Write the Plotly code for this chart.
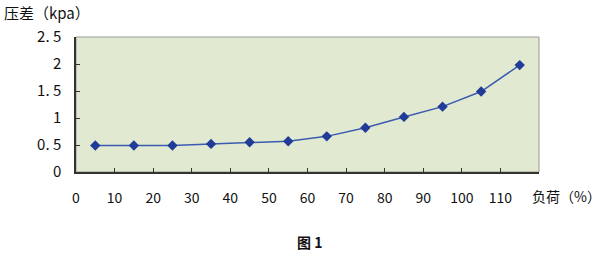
import plotly.graph_objects as go

load = [5, 15, 25, 35, 45, 55, 65, 75, 85, 95, 105, 115]
pressure = [0.49, 0.49, 0.49, 0.52, 0.55, 0.57, 0.66, 0.82, 1.02, 1.21, 1.49, 1.98]
x_ticks = [0, 10, 20, 30, 40, 50, 60, 70, 80, 90, 100, 110]
y_ticks = [0, 0.5, 1, 1.5, 2, 2.5]
y_ticktext = ["0", "0. 5", "1", "1. 5", "2", "2. 5"]

font = "Noto Sans CJK SC, DejaVu Sans, sans-serif"

fig = go.Figure()
fig.add_trace(go.Scatter(
    x=load, y=pressure, mode="lines+markers",
    line=dict(color="#3b5bb0", width=1.5),
    marker=dict(symbol="diamond", size=8, color="#203c98"),
    showlegend=False,
))

fig.update_layout(
    width=600, height=256,
    margin=dict(l=76, r=61, t=37, b=84),
    paper_bgcolor="white",
    plot_bgcolor="#e1e9d0",
    font=dict(family=font, color="#111111"),
    xaxis=dict(range=[0, 120], tickvals=x_ticks, ticktext=[str(v) for v in x_ticks],
               ticks="inside", ticklen=4, tickcolor="#333", showgrid=False, zeroline=False,
               showline=True, linecolor="#333", linewidth=1.5, mirror=False,
               tickfont=dict(size=14, family=font), ticklabelstandoff=12, fixedrange=True),
    yaxis=dict(range=[0, 2.5], tickvals=y_ticks, ticktext=y_ticktext,
               ticks="inside", ticklen=4, tickcolor="#333", showgrid=False, zeroline=False,
               showline=True, linecolor="#333", linewidth=1.5,
               tickfont=dict(size=15, family=font), ticklabelstandoff=10, fixedrange=True),
    shapes=[dict(type="rect", xref="paper", yref="paper", x0=0, y0=0, x1=1, y1=1,
                 line=dict(color="#999999", width=1), layer="below")],
    annotations=[
        dict(text="压差（kpa）", xref="paper", yref="paper", x=-74/463, y=1,
             xanchor="left", yanchor="bottom", yshift=12, showarrow=False,
             font=dict(size=15, family=font)),
        dict(text="负荷（%）", xref="paper", yref="paper", x=1, y=0,
             xanchor="left", yanchor="top", xshift=-9, yshift=-12, showarrow=False,
             font=dict(size=14, family=font)),
        dict(text="<b>图 1</b>", xref="paper", yref="paper", x=(309-76)/463, y=0,
             xanchor="center", yanchor="top", yshift=-58, showarrow=False,
             font=dict(size=14, family=font)),
    ],
)

fig.write_html("out.html")
